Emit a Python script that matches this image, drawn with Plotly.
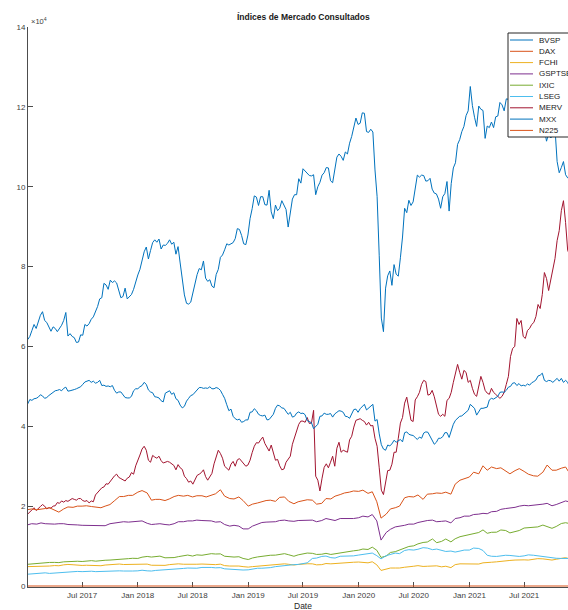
import pandas as pd
import plotly.graph_objects as go

# Index levels in thousands of points (axis shown in units of 10^4)

# Weekly closes (Mondays from 2017-01-02) for the more volatile indices
bvsp = [61.7, 62.5, 64.0, 65.5, 64.5, 66.0, 67.8, 68.7, 66.5, 66.0, 65.0, 63.8, 64.9, 64.5, 63.7, 64.4, 65.3, 66.5, 68.5, 62.6, 63.2, 62.5, 62.2, 61.0, 61.1, 62.9,
        62.8, 65.5, 65.1, 65.7, 66.8, 67.4, 68.7, 70.0, 71.9, 72.2, 75.8, 75.4, 74.3, 76.6, 76.0, 76.4, 75.9, 73.9, 72.2, 72.5, 74.6, 71.9, 72.5, 73.0, 74.3, 76.4,
        77.9, 79.3, 81.2, 83.7, 84.9, 81.9, 84.0, 86.0, 86.7, 86.1, 86.9, 84.4, 85.4, 85.3, 85.8, 86.7, 85.6, 86.1, 83.1, 85.0, 80.9, 77.0, 72.9, 70.8, 70.6, 71.1,
        73.5, 75.3, 78.0, 79.5, 79.2, 81.4, 77.1, 76.3, 76.7, 75.1, 74.7, 78.0, 79.3, 82.3, 82.9, 84.2, 85.7, 85.4, 85.6, 86.0, 87.0, 89.5, 89.3, 87.8, 85.7, 85.5, 87.9,
        92.0, 94.5, 97.7, 97.4, 95.3, 97.5, 97.5, 95.5, 95.4, 99.1, 93.7, 92.0, 95.4, 94.0, 94.6, 96.5, 95.5, 94.3, 89.9, 93.6, 96.9, 98.0, 98.0, 102.0, 100.9,
        104.5, 103.9, 103.5, 102.8, 102.7, 103.0, 98.0, 100.0, 101.1, 102.9, 103.5, 104.8, 104.7, 101.5, 101.0, 104.7, 107.4, 108.2, 107.6, 106.6, 108.7, 108.2, 110.9, 112.6, 115.1, 117.2, 115.6,
        115.9, 118.5, 118.4, 113.8, 113.6, 114.4, 113.7, 104.2, 97.5, 82.7, 67.1, 63.7, 74.6, 77.7, 78.9, 75.3, 80.5, 78.1, 77.6, 82.2, 87.4, 94.6, 93.5, 96.6, 95.3, 96.2,
        100.0, 102.9, 102.4, 102.9, 102.8, 101.4, 101.5, 102.1, 99.4, 98.4, 98.2, 96.9, 94.6, 97.5, 98.3, 101.3, 93.9, 100.8, 104.7, 106.0, 110.6, 111.8, 113.8, 115.1, 117.8, 119.0,
        125.1, 120.3, 117.4, 115.1, 120.2, 119.4, 119.1, 112.1, 115.2, 114.8, 116.2, 114.8, 117.5, 117.7, 121.1, 120.5, 119.0, 122.0, 121.9, 122.7, 124.4, 126.2, 130.1, 128.4, 127.3, 127.0,
        125.7, 125.9, 125.1, 121.8, 122.8, 121.8, 117.7, 120.7, 118.4, 114.4, 111.4, 113.3, 112.2, 112.8, 114.6, 106.3, 103.5, 104.8, 106.3, 103.0, 102.2, 101.9, 107.8, 107.2, 105.0, 104.8]

mxx = [45.6, 46.7, 46.5, 46.9, 47.0, 47.3, 47.9, 47.6, 47.0, 47.2, 47.7, 48.1, 48.5, 48.9, 49.0, 49.2, 48.9, 49.5, 49.8, 48.8, 48.9, 49.0, 49.2, 49.4, 49.7, 49.9,
       50.5, 51.1, 51.3, 51.5, 51.0, 51.3, 50.8, 51.0, 51.5, 50.2, 50.3, 50.0, 50.1, 49.9, 50.2, 49.0, 48.3, 48.6, 48.6, 47.9, 47.2, 47.1, 47.1, 47.5, 48.9, 49.4,
       49.4, 49.9, 50.2, 51.0, 50.5, 49.1, 48.6, 48.4, 47.4, 47.3, 47.1, 46.4, 46.1, 48.3, 48.6, 48.9, 48.0, 48.4, 46.9, 46.5, 45.3, 44.6, 45.0, 46.3, 47.0, 47.7,
       47.9, 48.5, 48.9, 49.7, 49.7, 49.5, 49.6, 49.5, 49.9, 49.4, 49.4, 49.7, 49.5, 49.0, 48.0, 47.0, 45.4, 43.9, 44.3, 42.5, 41.9, 41.6, 41.8, 41.0, 41.2, 41.6, 41.6,
       43.5, 43.6, 44.4, 43.9, 43.0, 42.7, 42.6, 42.8, 41.6, 41.7, 42.5, 43.0, 44.5, 45.3, 45.1, 44.6, 44.5, 43.8, 43.0, 43.5, 42.3, 42.5, 43.3, 43.6, 43.2,
       43.3, 42.9, 41.4, 41.2, 40.9, 39.4, 40.1, 40.5, 42.5, 42.6, 43.3, 43.0, 43.0, 43.2, 42.3, 43.1, 43.5, 43.9, 43.8, 43.5, 42.5, 42.4, 42.0, 43.0, 44.2, 44.3, 43.5,
       44.4, 45.1, 45.5, 44.1, 44.6, 45.0, 45.5, 41.3, 41.7, 38.1, 35.4, 34.3, 34.0, 35.3, 35.1, 35.6, 36.5, 36.0, 36.3, 36.7, 36.1, 38.4, 38.6, 38.0, 37.8, 37.7,
       37.2, 36.7, 37.3, 37.0, 38.3, 38.6, 38.5, 37.5, 36.4, 35.5, 36.0, 37.0, 37.0, 37.4, 38.4, 38.4, 37.2, 39.2, 40.5, 41.5, 42.0, 42.5, 42.6, 43.1, 43.5, 44.0,
       45.5, 45.0, 44.5, 42.8, 43.5, 44.5, 44.5, 44.6, 44.8, 46.6, 47.0, 46.8, 47.2, 47.5, 48.5, 48.6, 48.5, 49.0, 49.8, 50.0, 50.8, 50.9, 50.2, 50.7, 50.1, 50.3,
       50.1, 50.6, 50.3, 50.9, 51.2, 51.6, 52.6, 52.8, 53.3, 51.5, 51.2, 51.5, 51.4, 51.0, 51.5, 52.0, 51.3, 52.0, 51.0, 51.5, 51.0, 49.6, 51.6, 51.8, 52.2, 53.0]

merv = [18.0, 18.5, 19.2, 19.6, 18.9, 19.5, 19.9, 20.4, 20.0, 19.3, 19.6, 19.5, 20.0, 20.1, 20.9, 20.7, 21.3, 21.0, 21.4, 21.2, 21.6, 21.9, 21.7, 21.5, 21.9, 21.9,
        21.4, 21.2, 21.4, 20.8, 21.3, 21.1, 22.8, 23.4, 24.0, 24.6, 24.8, 25.6, 25.5, 26.2, 27.0, 27.6, 28.0, 27.2, 26.9, 26.6, 26.3, 27.0, 27.3, 28.4, 28.0, 30.1,
        31.3, 32.8, 34.3, 35.0, 34.0, 31.5, 31.0, 32.7, 32.3, 32.0, 32.5, 31.4, 30.8, 31.0, 31.2, 31.0, 30.7, 30.2, 29.1, 30.4, 29.6, 29.2, 27.5, 26.9, 26.0, 26.3,
        25.5, 26.6, 27.7, 28.0, 28.4, 29.1, 27.4, 26.5, 27.3, 28.2, 30.6, 32.1, 34.0, 33.2, 32.0, 30.0, 29.5, 29.0, 30.5, 31.2, 30.0, 31.6, 31.9, 31.2, 30.8, 30.0, 30.3,
        31.5, 33.4, 35.0, 35.9, 35.8, 36.6, 37.3, 35.7, 34.9, 33.8, 35.3, 33.0, 31.5, 31.7, 30.1, 29.1, 29.3, 31.0, 31.7, 32.5, 35.5, 37.4, 39.1, 40.5, 41.3,
        41.3, 41.0, 42.2, 40.7, 40.8, 44.0, 27.5, 26.5, 23.8, 27.0, 29.7, 30.6, 29.6, 31.0, 32.5, 30.0, 34.5, 36.0, 33.5, 34.0, 33.7, 33.5, 36.6, 37.5, 39.8, 41.5, 41.7,
        41.9, 41.5, 41.2, 40.3, 41.0, 40.1, 40.2, 37.0, 35.0, 29.6, 24.0, 22.9, 26.3, 28.9, 29.0, 30.5, 33.5, 33.5, 37.0, 40.8, 42.2, 45.8, 47.3, 44.0, 41.5, 41.2,
        46.6, 47.4, 48.5, 50.5, 51.5, 51.2, 47.8, 48.0, 49.0, 47.4, 45.3, 43.0, 42.5, 43.0, 42.5, 46.5, 47.0, 48.5, 51.0, 53.0, 55.5, 53.5, 51.8, 54.0, 53.5, 51.0,
        51.5, 49.5, 48.0, 47.5, 50.5, 52.5, 51.0, 49.0, 48.3, 48.0, 49.5, 48.5, 48.0, 47.5, 47.0, 47.5, 48.5, 50.5, 52.5, 57.5, 59.5, 60.0, 67.0, 65.5, 66.5, 62.5,
        62.0, 64.0, 64.5, 65.5, 66.0, 67.5, 70.5, 69.5, 73.0, 78.5, 77.0, 74.0, 76.5, 79.0, 82.0, 86.5, 89.0, 94.0, 96.5, 91.0, 84.0, 83.0, 82.5, 83.5, 83.0, 84.0]

# Semi-monthly closes (1st and 15th of each month) for the smoother indices
fchi = [4.85, 4.86, 4.80, 4.90, 4.96, 5.00, 5.12, 5.07, 5.30, 5.40, 5.32, 5.20, 5.15, 5.20, 5.10, 5.08, 5.08, 5.25, 5.33, 5.38, 5.50, 5.38, 5.40, 5.35,
        5.30, 5.50, 5.48, 5.20, 5.15, 5.25, 5.17, 5.35, 5.52, 5.55, 5.45, 5.45, 5.28, 5.45, 5.50, 5.40, 5.40, 5.35, 5.47, 5.10, 5.00, 5.05, 5.00, 4.85,
        4.73, 4.85, 4.98, 5.07, 5.25, 5.35, 5.35, 5.52, 5.55, 5.43, 5.25, 5.40, 5.55, 5.57, 5.55, 5.30, 5.35, 5.63, 5.55, 5.65, 5.75, 5.90, 5.85, 5.95,
        6.00, 5.95, 5.80, 6.07, 5.30, 3.90, 4.25, 4.50, 4.50, 4.50, 4.70, 4.90, 4.95, 5.10, 4.90, 4.95, 5.00, 5.05, 4.80, 4.95, 4.60, 5.35, 5.55, 5.55,
        5.55, 5.65, 5.50, 5.80, 5.80, 5.95, 6.05, 6.20, 6.30, 6.40, 6.50, 6.60, 6.55, 6.50, 6.65, 6.85, 6.80, 6.60, 6.50, 6.70, 6.85, 7.10, 6.70, 6.90]

gsptse = [15.3, 15.6, 15.5, 15.8, 15.6, 15.5, 15.5, 15.6, 15.6, 15.4, 15.4, 15.3, 15.2, 15.2, 15.1, 15.1, 15.2, 15.1, 15.6, 15.8, 16.0, 16.1, 16.0, 16.1,
          16.2, 16.3, 15.7, 15.4, 15.5, 15.6, 15.4, 15.3, 15.6, 16.1, 16.1, 16.3, 16.3, 16.5, 16.4, 16.3, 16.3, 16.0, 16.1, 15.4, 15.0, 15.2, 15.0, 14.3,
          14.3, 15.0, 15.4, 15.9, 16.0, 16.1, 16.1, 16.4, 16.5, 16.3, 16.2, 16.4, 16.4, 16.5, 16.5, 16.1, 16.4, 16.9, 16.7, 16.4, 16.9, 16.9, 17.0, 16.9,
          17.1, 17.5, 17.3, 17.9, 16.3, 11.5, 13.4, 14.2, 14.8, 14.9, 15.2, 15.5, 15.5, 15.9, 16.2, 16.4, 16.5, 16.1, 16.2, 16.3, 15.8, 16.9, 17.1, 17.5,
          17.5, 17.9, 18.0, 18.2, 18.1, 18.6, 18.7, 19.2, 19.4, 19.5, 19.7, 20.0, 20.2, 20.1, 20.2, 20.4, 20.5, 20.7, 20.1, 20.4, 20.9, 21.3, 21.0, 21.0]

ixic = [5.43, 5.55, 5.62, 5.82, 5.86, 5.90, 5.91, 5.86, 6.05, 6.15, 6.20, 6.20, 6.14, 6.32, 6.35, 6.22, 6.44, 6.45, 6.50, 6.62, 6.70, 6.79, 6.85, 6.94,
        6.90, 7.22, 7.40, 7.25, 7.27, 7.48, 7.06, 7.10, 7.12, 7.35, 7.55, 7.75, 7.50, 7.80, 7.70, 7.80, 8.10, 8.01, 8.05, 7.45, 7.30, 7.25, 7.33, 6.90,
        6.63, 7.02, 7.28, 7.47, 7.60, 7.70, 7.73, 7.98, 8.10, 7.82, 7.45, 7.80, 8.12, 8.25, 8.18, 7.90, 7.96, 8.18, 7.90, 8.09, 8.38, 8.54, 8.66, 8.81,
        8.97, 9.26, 9.15, 9.73, 8.95, 7.15, 7.50, 8.40, 8.60, 9.02, 9.49, 9.90, 10.06, 10.55, 10.90, 11.02, 11.78, 10.85, 11.17, 11.77, 11.05, 11.83, 12.35, 12.60,
        12.89, 13.10, 13.40, 14.05, 13.20, 13.45, 13.48, 14.03, 13.90, 13.30, 13.70, 13.90, 14.52, 14.65, 14.67, 14.80, 15.26, 14.90, 14.45, 14.90, 15.65, 15.85, 15.54, 15.35]

lseg = [2.95, 3.05, 3.25, 3.20, 3.30, 3.15, 3.25, 3.35, 3.40, 3.55, 3.70, 3.65, 3.60, 3.70, 3.70, 3.60, 3.65, 3.75, 3.75, 3.85, 3.80, 3.75, 3.70, 3.75,
        3.80, 3.95, 3.80, 3.75, 3.90, 3.95, 4.05, 4.20, 4.30, 4.25, 4.40, 4.50, 4.50, 4.45, 4.65, 4.70, 4.65, 4.55, 4.60, 4.30, 4.20, 4.10, 4.10, 4.00,
        4.05, 4.30, 4.45, 4.45, 4.50, 4.60, 4.85, 5.00, 5.20, 5.30, 5.35, 5.40, 5.55, 5.80, 6.90, 7.00, 7.40, 7.50, 7.10, 7.00, 7.45, 7.50, 7.40, 7.55,
        7.75, 7.90, 8.10, 8.25, 7.60, 6.80, 7.60, 7.95, 8.25, 8.10, 8.90, 9.10, 9.00, 9.20, 9.60, 9.50, 9.10, 9.25, 8.90, 8.65, 8.75, 8.50, 8.75, 9.00,
        9.00, 9.50, 9.40, 8.90, 7.70, 7.45, 7.40, 7.55, 7.70, 7.65, 7.45, 7.40, 7.55, 7.80, 7.70, 7.55, 7.35, 7.20, 7.00, 6.95, 6.90, 6.95, 6.85, 6.90]

n225 = [19.1, 19.3, 19.1, 19.2, 19.4, 19.6, 18.9, 18.5, 19.3, 19.8, 19.7, 20.0, 20.0, 20.1, 19.9, 19.7, 19.6, 20.0, 20.4, 21.3, 22.4, 22.4, 22.7, 22.7,
        23.5, 23.9, 23.3, 21.5, 21.7, 21.7, 21.4, 21.8, 22.4, 22.7, 22.5, 22.7, 22.3, 22.6, 22.6, 22.3, 22.8, 23.1, 24.1, 22.5, 21.9, 21.8, 22.3, 21.4,
        20.0, 20.5, 20.8, 21.1, 21.4, 21.5, 21.2, 22.2, 22.3, 21.2, 20.6, 21.1, 21.3, 21.6, 21.5, 20.5, 20.7, 21.9, 21.8, 22.5, 22.9, 23.3, 23.5, 23.8,
        23.7, 24.0, 23.2, 23.6, 21.1, 17.0, 18.0, 19.3, 19.6, 20.0, 22.1, 22.4, 22.3, 22.8, 21.7, 23.0, 23.1, 23.3, 23.2, 23.5, 23.0, 25.5, 26.5, 26.8,
        27.3, 28.5, 28.1, 30.1, 29.0, 29.8, 29.4, 29.6, 28.8, 28.1, 28.9, 29.4, 28.7, 28.0, 27.6, 27.5, 28.5, 30.3, 29.0, 29.0, 29.5, 29.8, 27.9, 28.9]

# DAX series is flat at zero over the whole period
dax_dates = ["2017-01-01", "2021-12-31"]
dax = [0.0, 0.0]

weekly = pd.date_range("2017-01-02", periods=len(bvsp), freq="W-MON")
semimonthly = pd.date_range("2017-01-01", periods=len(fchi), freq="SMS")

names = ["BVSP", "DAX", "FCHI", "GSPTSE", "IXIC", "LSEG", "MERV", "MXX", "N225"]
colors = ["#0072BD", "#D95319", "#EDB120", "#7E2F8E", "#77AC30",
          "#4DBEEE", "#A2142F", "#0072BD", "#D95319"]
series = [bvsp, dax, fchi, gsptse, ixic, lseg, merv, mxx, n225]
xdates = [pd.date_range("2017-01-02", periods=len(bvsp), freq="W-MON"), dax_dates,
          semimonthly, semimonthly, semimonthly, semimonthly,
          pd.date_range("2017-01-02", periods=len(merv), freq="W-MON"),
          pd.date_range("2017-01-02", periods=len(mxx), freq="W-MON"),
          semimonthly]

tick_dates = ["2017-07-01", "2018-01-01", "2018-07-01", "2019-01-01", "2019-07-01",
              "2020-01-01", "2020-07-01", "2021-01-01", "2021-07-01"]
y_ticks = [0, 20, 40, 60, 80, 100, 120, 140]
y_tick_text = ["0", "2", "4", "6", "8", "10", "12", "14"]

# Page geometry (pixels)
W, H = 568, 610
L, T, B = 28, 27, 23
PW, PH = W - L, H - T - B

def px(xp):
    return (xp - L) / PW

def py(yp):
    return 1 - (yp - T) / PH

FONT = "Liberation Sans, Arial, sans-serif"
AX = "#4d4d4d"

fig = go.Figure()
for name, xs, vals, col in zip(names, xdates, series, colors):
    fig.add_trace(go.Scatter(x=xs, y=vals, mode="lines", name=name,
                             line=dict(color=col, width=1), showlegend=False,
                             hoverinfo="skip"))

fig.update_layout(
    width=W, height=H,
    margin=dict(l=L, r=0, t=T, b=B, autoexpand=False),
    paper_bgcolor="white", plot_bgcolor="white",
    font=dict(family=FONT, size=8, color="#404040"),
    showlegend=False,
)
fig.update_xaxes(
    type="date", range=["2017-01-03", "2021-11-23"],
    tickvals=tick_dates, tickformat="%b %Y",
    ticks="inside", ticklen=5, tickcolor=AX, tickwidth=1,
    showline=True, linecolor=AX, linewidth=1, layer="below traces",
    showgrid=False, zeroline=False, tickfont=dict(size=8, color="#404040"),
)
fig.update_yaxes(
    range=[-0.25, 140], tickvals=y_ticks, ticktext=y_tick_text,
    ticks="inside", ticklen=5, tickcolor=AX, tickwidth=1,
    showline=True, linecolor=AX, linewidth=1, layer="below traces",
    showgrid=False, zeroline=False, tickfont=dict(size=8, color="#404040"),
)

ann = []
shapes = []
# Title, exponent and x label
ann.append(dict(text="<b>Índices de Mercado Consultados</b>", xref="paper", yref="paper",
                x=px(303), y=py(17), xanchor="center", yanchor="middle", showarrow=False,
                font=dict(size=8.5, color="#1a1a1a")))
ann.append(dict(text="×10<sup>4</sup>", xref="paper", yref="paper",
                x=px(29), y=py(21), xanchor="left", yanchor="middle", showarrow=False,
                font=dict(size=7.5, color="#404040")))
ann.append(dict(text="Date", xref="paper", yref="paper",
                x=px(303), y=py(606), xanchor="center", yanchor="middle", showarrow=False,
                font=dict(size=8.5, color="#262626")))

# Legend box in the upper right corner
shapes.append(dict(type="rect", xref="paper", yref="paper",
                   x0=px(508), x1=px(585), y0=py(137), y1=py(33),
                   line=dict(color="#262626", width=1), fillcolor="white", layer="above"))
for i, (name, col) in enumerate(zip(names, colors)):
    yy = 40 + i * 11.3
    shapes.append(dict(type="line", xref="paper", yref="paper",
                       x0=px(510), x1=px(533), y0=py(yy), y1=py(yy),
                       line=dict(color=col, width=1), layer="above"))
    ann.append(dict(text=name, xref="paper", yref="paper", x=px(537), y=py(yy),
                    xanchor="left", yanchor="middle", showarrow=False,
                    font=dict(size=8, color="#1a1a1a")))

fig.update_layout(annotations=ann, shapes=shapes)
fig.write_html("out.html")
